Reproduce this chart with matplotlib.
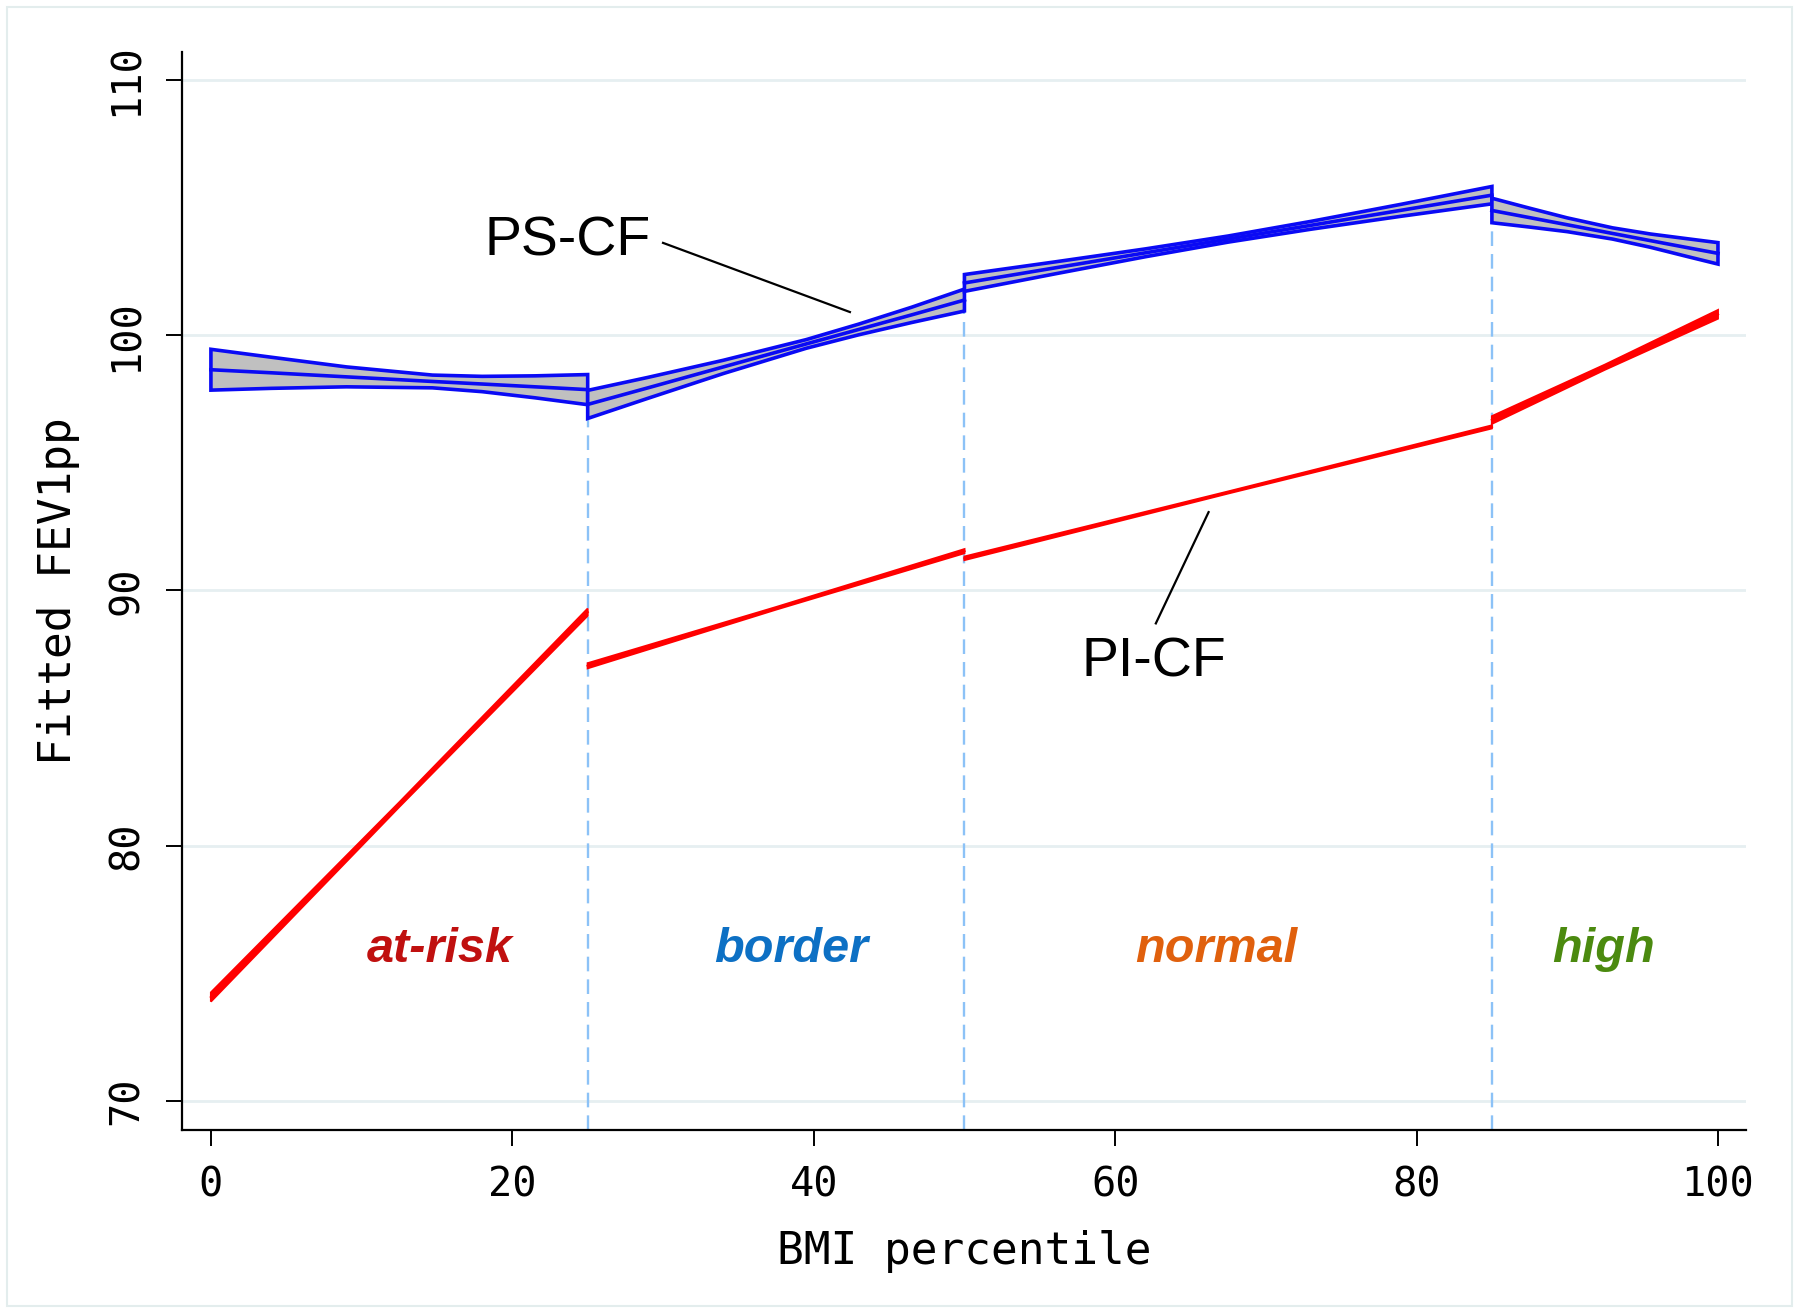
import matplotlib
matplotlib.use("Agg")
import matplotlib.pyplot as plt
import matplotlib.patches as patches
import numpy as np

# ---------------- data ----------------
# PS-CF: piecewise linear fit with confidence band, per BMI category segment
ps_x = [[0, 4, 9, 14.7, 18, 21.5, 25],
        [25, 29, 34, 39.5, 43, 46.5, 50],
        [50, 56, 62, 67.5, 73, 79, 85],
        [85, 87.5, 90, 93, 95.5, 98, 100]]
ps_c = [[98.65, 98.53, 98.37, 98.19, 98.09, 97.98, 97.87],
        [97.29, 97.94, 98.76, 99.66, 100.23, 100.80, 101.38],
        [102.05, 102.64, 103.23, 103.77, 104.31, 104.90, 105.49],
        [104.89, 104.61, 104.33, 103.99, 103.71, 103.43, 103.21]]
ps_hw = [[0.80, 0.61, 0.39, 0.25, 0.30, 0.43, 0.59],
         [0.55, 0.41, 0.26, 0.17, 0.21, 0.30, 0.43],
         [0.33, 0.235, 0.154, 0.12, 0.154, 0.235, 0.34],
         [0.48, 0.37, 0.27, 0.22, 0.26, 0.35, 0.42]]

# PI-CF
pi_x = [[0, 12.5, 25], [25, 37.5, 50], [50, 67.5, 85], [85, 92.5, 100]]
pi_c = [[74.07, 81.61, 89.15], [87.05, 89.30, 91.54], [91.26, 93.84, 96.41], [96.68, 98.75, 100.82]]
pi_hw = [[0.18, 0.09, 0.14], [0.10, 0.05, 0.08], [0.07, 0.04, 0.06], [0.15, 0.10, 0.17]]

cutpoints = [25, 50, 85]
categories = ["at-risk", "border", "normal", "high"]
cat_x = [15.2, 38.5, 66.7, 92.4]
cat_y = 75.95
cat_colors = ["#c0100f", "#0d70c4", "#e0600d", "#4b8a0f"]

xticks = [0, 20, 40, 60, 80, 100]
yticks = [70, 80, 90, 100, 110]

# ---------------- figure ----------------
fig = plt.figure(figsize=(18, 13.13), dpi=100)
ax = fig.add_axes([0.1011, 0.1394, 0.8689, 0.8210])
ax.set_xlim(-1.92, 101.86)
ax.set_ylim(68.86, 111.1)

mono = "DejaVu Sans Mono"
sans = "Liberation Sans"
blue = "#0a0af5"

# gridlines
for yv in yticks:
    ax.axhline(yv, color="#e6eff1", lw=2.0, zorder=0)

# dashed cut-point lines
for i, cp in enumerate(cutpoints):
    top = min(ps_c[i][-1] - ps_hw[i][-1], ps_c[i + 1][0] - ps_hw[i + 1][0])
    ax.plot([cp, cp], [68.86, top], color="#8cc2f7", lw=1.7, dashes=(6.2, 3.4), zorder=1,
            solid_capstyle="butt")

# PS-CF bands
for xs, cs, hws in zip(ps_x, ps_c, ps_hw):
    xs = np.array(xs); cs = np.array(cs); hws = np.array(hws)
    hi = cs + hws
    lo = cs - hws
    px = np.concatenate([xs, xs[::-1]])
    py = np.concatenate([hi, lo[::-1]])
    ax.fill(px, py, facecolor="#c0c0c0", edgecolor=blue, lw=2.6, zorder=3, joinstyle="miter")
    ax.plot(xs, cs, color=blue, lw=2.6, zorder=4)

# PI-CF bands
for xs, cs, hws in zip(pi_x, pi_c, pi_hw):
    xs = np.array(xs); cs = np.array(cs); hws = np.array(hws)
    px = np.concatenate([xs, xs[::-1]])
    py = np.concatenate([cs + hws, (cs - hws)[::-1]])
    ax.fill(px, py, facecolor="#ff0000", edgecolor="#ff0000", lw=1.4, zorder=3)
    ax.plot(xs, cs, color="#ff0000", lw=1.6, zorder=4)

# annotations
ax.text(23.7, 103.69, "PS-CF", fontsize=40, family=sans, ha="center", va="center", zorder=5)
ax.plot([30.0, 42.4], [103.62, 100.91], color="black", lw=1.6, zorder=5)
ax.text(62.6, 87.18, "PI-CF", fontsize=40, family=sans, ha="center", va="center", zorder=5)
ax.plot([62.7, 66.2], [88.71, 93.07], color="black", lw=1.6, zorder=5)

for name, xv, col in zip(categories, cat_x, cat_colors):
    ax.text(xv, cat_y, name, fontsize=35, family=sans, weight="bold", style="italic",
            color=col, ha="center", va="center", zorder=5)

# axes styling
for s in ["top", "right"]:
    ax.spines[s].set_visible(False)
for s in ["left", "bottom"]:
    ax.spines[s].set_linewidth(1.6)
    ax.spines[s].set_color("black")

ax.set_xticks(xticks)
ax.set_yticks(yticks)
ax.set_xticklabels([str(v) for v in xticks], family=mono, fontsize=29)
ax.set_yticklabels([str(v) for v in yticks], family=mono, fontsize=29, rotation=90, va="center")
ax.tick_params(axis="both", direction="out", length=11.5, width=1.4, color="black")
ax.tick_params(axis="x", pad=14)
ax.tick_params(axis="y", pad=14)

ax.set_xlabel("BMI percentile", family=mono, fontsize=32, labelpad=18)
ax.set_ylabel("Fitted FEV1pp", family=mono, fontsize=32, labelpad=19)

# outer light frame
fig.patches.append(patches.Rectangle((0.0039, 0.0053), 0.9917, 0.9893, transform=fig.transFigure,
                                     fill=False, edgecolor="#e3eded", lw=1.5))

fig.savefig("out.png", dpi=100, facecolor="white")
